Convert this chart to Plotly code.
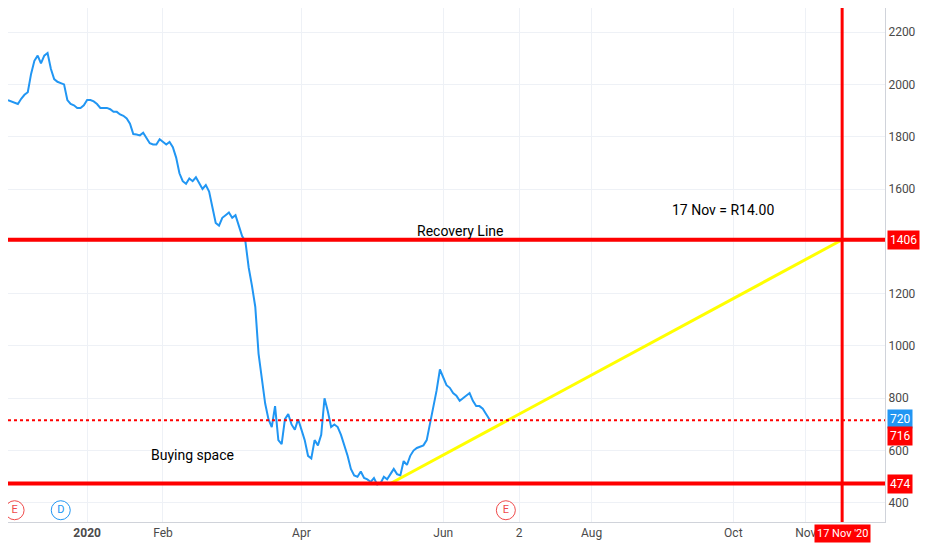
import pandas as pd
import plotly.graph_objects as go

# daily closes (cents), one per business day from late Nov 2019
close = [
    1940, 1935, 1930, 1925, 1945, 1960, 1970, 2040, 2090, 2110, 2080, 2110, 2120,
    2060, 2020, 2010, 2005, 2000, 1940, 1925, 1920, 1910, 1910, 1920, 1940,
    1940, 1935, 1925, 1910, 1910, 1910, 1905, 1895, 1895, 1885, 1880, 1870, 1850,
    1810, 1808, 1805, 1815, 1795, 1775, 1770, 1770, 1790,
    1780, 1770, 1780, 1760, 1720, 1660, 1630, 1620, 1640, 1630, 1645, 1625, 1600,
    1615, 1590, 1530, 1470, 1460, 1490, 1500,
    1510, 1490, 1500, 1460, 1420, 1400, 1300, 1230, 1150, 970, 870, 780, 720, 690,
    770, 640, 625, 720, 740, 700, 680, 720,
    680, 640, 580, 570, 640, 620, 660, 800, 750, 690, 700, 690, 660, 620, 580, 530,
    505, 500, 520, 495, 490,
    480, 495, 470, 475, 500, 490, 510, 530, 510, 505, 560, 545, 580, 600, 610, 615,
    620, 640, 700,
    760, 830, 910, 880, 850, 840, 820, 810, 790, 800, 810, 820, 790, 770, 770, 760,
    740, 720,
]
dates = pd.bdate_range("2019-11-28", periods=len(close))

recovery_level = 1406
mid_level = 716
buy_level = 474
last_price = 720
target_date = "2020-11-17"
trend_start = ("2020-05-08", 474)
trend_end = (target_date, 1406)

tick_dates = ["2020-01-01", "2020-02-03", "2020-04-01", "2020-06-01", "2020-07-02",
              "2020-08-03", "2020-10-01", "2020-11-02"]
tick_text = ["<b>2020</b>", "Feb", "Apr", "Jun", "2", "Aug", "Oct", "Nov"]

event_dates = ["2019-12-02", "2019-12-20", "2020-06-26"]
event_letters = ["E", "D", "E"]
event_colors = ["#f04a4a", "#2196f3", "#f04a4a"]

RED = "#ff0000"
fig = go.Figure()
fig.add_trace(go.Scatter(x=dates, y=close, mode="lines",
                         line=dict(color="#2196f3", width=2), showlegend=False))
fig.add_trace(go.Scatter(x=[trend_start[0], trend_end[0]], y=[trend_start[1], trend_end[1]],
                         mode="lines", line=dict(color="#ffff00", width=3), showlegend=False))

for lvl, w, dash in [(recovery_level, 4, "solid"), (mid_level, 2, "dot"), (buy_level, 4, "solid")]:
    fig.add_hline(y=lvl, line=dict(color=RED, width=w, dash=dash))
fig.add_vline(x=target_date, line=dict(color=RED, width=3))

fig.add_trace(go.Scatter(
    x=event_dates, y=[372] * len(event_dates), mode="markers+text",
    text=event_letters, textfont=dict(color=event_colors, size=11),
    marker=dict(size=19, color="white", line=dict(color=event_colors, width=1)),
    showlegend=False, cliponaxis=False))

# price labels on right axis
for lvl, col in [(recovery_level, RED), (last_price, "#2196f3"), (mid_level, RED), (buy_level, RED)]:
    yv = lvl if lvl != mid_level else lvl - 62
    fig.add_annotation(x=1.0, xref="paper", y=yv, yref="y", text=str(lvl), xanchor="left",
                       showarrow=False, bgcolor=col, font=dict(color="white", size=12),
                       borderpad=2, xshift=2)
fig.add_annotation(x=target_date, y=0, yref="paper", text="17 Nov '20", yanchor="top",
                   showarrow=False, bgcolor=RED, font=dict(color="white", size=11),
                   borderpad=2, yshift=-2)

fig.add_annotation(x="2020-06-08", y=1440, text="Recovery Line", showarrow=False,
                   font=dict(size=14, color="black"))
fig.add_annotation(x="2020-09-28", y=1520, text="17 Nov = R14.00", showarrow=False,
                   font=dict(size=14, color="black"))
fig.add_annotation(x="2020-02-14", y=585, text="Buying space", showarrow=False,
                   font=dict(size=14, color="black"))

fig.update_layout(
    width=924, height=542, margin=dict(l=0, r=47, t=0, b=28),
    plot_bgcolor="white", paper_bgcolor="white",
    font=dict(family="Roboto", size=12, color="#4a4a4a"),
)
fig.update_xaxes(type="date", range=["2019-11-28", "2020-12-04"],
                 rangebreaks=[dict(bounds=["sat", "mon"])],
                 tickvals=tick_dates, ticktext=tick_text,
                 showgrid=True, gridcolor="#eef1f6", zeroline=False,
                 showline=True, linecolor="#d0d3da", ticks="")
fig.update_yaxes(side="right", range=[327, 2292], tickvals=list(range(400, 2201, 200)),
                 showgrid=True, gridcolor="#eef1f6", zeroline=False,
                 showline=True, linecolor="#d0d3da", ticks="")

fig.write_html("out.html")
